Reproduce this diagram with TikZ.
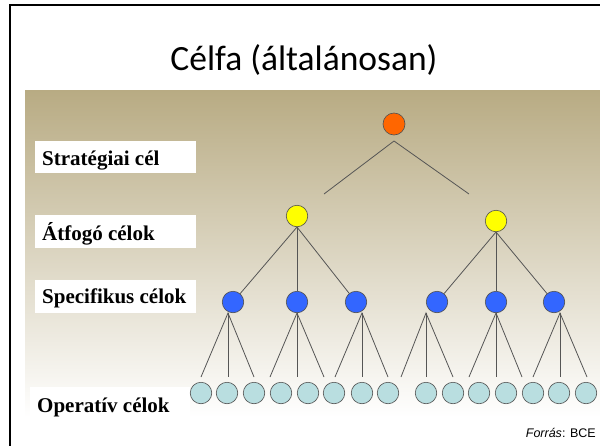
\documentclass[tikz,border=0pt]{standalone}
\usepackage{fontspec}
\setmainfont{Liberation Serif}
\newfontfamily\titlefont{Carlito}
\newfontfamily\srcfont{Liberation Sans}
\definecolor{panelTop}{RGB}{184,171,131}
\definecolor{lineGray}{RGB}{85,85,85}
\definecolor{nodeBorder}{RGB}{80,80,80}
\definecolor{orangeFill}{RGB}{255,102,0}
\definecolor{yellowFill}{RGB}{255,255,0}
\definecolor{blueFill}{RGB}{51,102,255}
\definecolor{cyanFill}{RGB}{185,222,224}
\tikzset{
  goal/.style={circle, draw=nodeBorder, line width=0.6pt, inner sep=0pt, minimum size=21.5pt},
  conn/.style={draw=lineGray, line width=0.8pt},
  lblbox/.style={fill=white},
  lbltext/.style={anchor=base west, inner sep=0pt, font=\bfseries\fontsize{21}{24}\selectfont}
}
\begin{document}
\begin{tikzpicture}[x=1pt,y=-1pt]
\useasboundingbox (0,0) rectangle (600,445);
\fill[white] (0,0) rectangle (600,445);
\draw[line width=2pt] (10,5) rectangle (640,480);
\node[anchor=base, inner sep=0pt, font=\titlefont\fontsize{35.5}{40}\selectfont] (title) at (304,70) {Célfa (általánosan)};
\shade[top color=panelTop, bottom color=white] (25,90) rectangle (600,417);

% level labels
\fill[lblbox] (35,140.5) rectangle (196,173);
\node[lbltext] (l1) at (42,165) {Stratégiai cél};
\fill[lblbox] (35,215) rectangle (196,248);
\node[lbltext] (l2) at (42,240) {Átfogó célok};
\fill[lblbox] (35,280) rectangle (196,313);
\node[lbltext] (l3) at (42,303) {Specifikus célok};
\fill[lblbox] (30,387) rectangle (190,417);
\node[lbltext] (l4) at (37,412) {Operatív célok};

% nodes
\node[goal, fill=orangeFill, minimum size=22pt] (o) at (394,124) {};
\node[goal, fill=yellowFill] (y1) at (297,216) {};
\node[goal, fill=yellowFill] (y2) at (496,221) {};
\foreach \x [count=\i] in {233,297,356,437,496,554}
  \node[goal, fill=blueFill] (b\i) at (\x,302) {};
\foreach \x [count=\i] in {201,227,254,281,308,334,362,388,426,453,479,506,533,559,586}
  \node[goal, fill=cyanFill] (c\i) at (\x,393) {};

% top level connectors (free ends)
\coordinate (oa) at (394,141);
\coordinate (oL) at (324,194);
\coordinate (oR) at (469,194);
\draw[conn] (oL) -- (oa) -- (oR);

% yellow to blue
\foreach \i in {1,2,3} \draw[conn] (y1.south) -- (b\i);
\foreach \i in {4,5,6} \draw[conn] (y2.south) -- (b\i);

% blue fans (free ends)
\foreach \ax/\l/\m/\r [count=\i] in {228/201/228/254, 297/270/297/324, 362/335/362/388, 426/401/426/453, 496/469/496/522, 560/533/560/587}{
  \coordinate (ap\i) at (\ax,313);
  \coordinate (fl\i) at (\l,377);
  \coordinate (fm\i) at (\m,377);
  \coordinate (fr\i) at (\r,377);
  \draw[conn] (fl\i) -- (ap\i) -- (fr\i);
  \draw[conn] (ap\i) -- (fm\i);
}

\node[anchor=base east, inner sep=0pt, font=\srcfont\fontsize{12.5}{14}\selectfont] (src) at (596,437) {\textit{Forrás}: BCE};
\end{tikzpicture}
\end{document}
